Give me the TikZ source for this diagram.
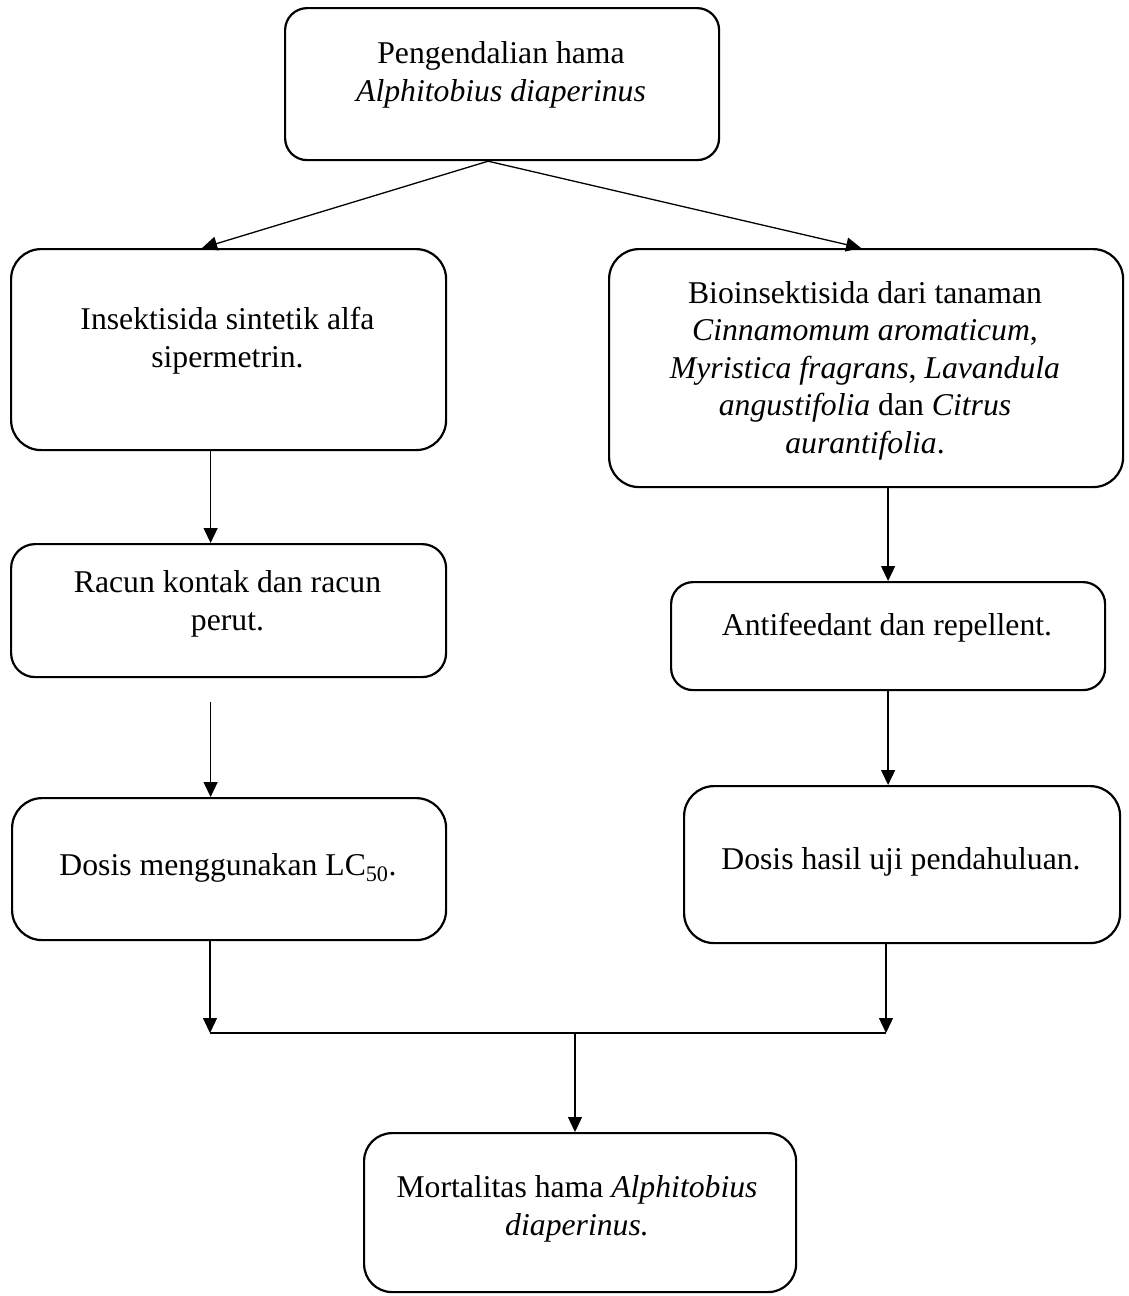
\documentclass[tikz,border=0pt]{standalone}
\usepackage{fontspec}
\setmainfont{Liberation Serif}
\usetikzlibrary{arrows.meta,calc}
\begin{document}
\begin{tikzpicture}[x=1pt,y=-1pt,
  box/.style={draw, line width=2.2pt, rectangle, inner sep=0pt, anchor=north west},
  txt/.style={align=center, anchor=base, inner sep=0pt, font=\fontsize{31.7}{37.5}\selectfont},
  arr/.style={line width=1.3pt, -{Triangle[length=15pt,width=14pt]}},
  con/.style={line width=1.3pt}]
\useasboundingbox (0,0) rectangle (1128,1296);

% boxes
\node[box, minimum width=434pt, minimum height=152pt, rounded corners=22pt] (top) at (284,7) {};
\node[box, minimum width=435pt, minimum height=201pt, rounded corners=30pt] (ins) at (10,248) {};
\node[box, minimum width=514pt, minimum height=238pt, rounded corners=30pt] (bio) at (608,248) {};
\node[box, minimum width=435pt, minimum height=133pt, rounded corners=24pt] (racun) at (10,543) {};
\node[box, minimum width=434pt, minimum height=108pt, rounded corners=22pt] (anti) at (670,581) {};
\node[box, minimum width=434pt, minimum height=142pt, rounded corners=30pt] (dosisL) at (11,797) {};
\node[box, minimum width=436pt, minimum height=157pt, rounded corners=30pt] (dosisR) at (683,785) {};
\node[box, minimum width=432pt, minimum height=159pt, rounded corners=28pt] (mortal) at (363,1132) {};

% texts (anchor = baseline of the last line)
\node[txt] (toptxt) at (501,101) {Pengendalian hama\\\textit{Alphitobius diaperinus}};
\node[txt] (instxt) at (227.5,367) {Insektisida sintetik alfa\\sipermetrin.};
\node[txt] (biotxt) at (865,453) {Bioinsektisida dari tanaman\\\textit{Cinnamomum aromaticum},\\\textit{Myristica fragrans}, \textit{Lavandula}\\\textit{angustifolia} dan \textit{Citrus}\\\textit{aurantifolia}.};
\node[txt] (racuntxt) at (227.5,630) {Racun kontak dan racun\\perut.};
\node[txt] (antitxt) at (887,635) {Antifeedant dan repellent.};
\node[txt] (dosisLtxt) at (228,875) {Dosis menggunakan LC\textsubscript{50}.};
\node[txt] (dosisRtxt) at (901,869) {Dosis hasil uji pendahuluan.};
\node[txt] (mortaltxt) at (577,1235) {Mortalitas hama \textit{Alphitobius}\\\textit{diaperinus.}};

% junction coordinates
\coordinate (jl) at (210,1033);
\coordinate (jr) at (886,1033);
\coordinate (jm) at (575,1033);
\coordinate (rs) at ($(racun.south)+(-18,24)$);

% connectors
\draw[arr] ($(top.south)+(-14,0)$) -- ($(ins.north)+(-26.5,0)$);
\draw[arr] ($(top.south)+(-14,0)$) -- ($(bio.north)+(-5,0)$);
\draw[arr] ($(ins.south)+(-18,0)$) -- ($(racun.north)+(-18,0)$);
\draw[arr] (rs) -- (rs |- dosisL.north);
\draw[arr] (bio.south -| anti.north) -- (anti.north);
\draw[arr] (anti.south) -- (anti.south |- dosisR.north);
\draw[arr] (dosisL.south -| jl) -- (jl);
\draw[arr] (dosisR.south -| jr) -- (jr);
\draw[con] (jl) -- (jr);
\draw[arr] (jm) -- (jm |- mortal.north);
\end{tikzpicture}
\end{document}
